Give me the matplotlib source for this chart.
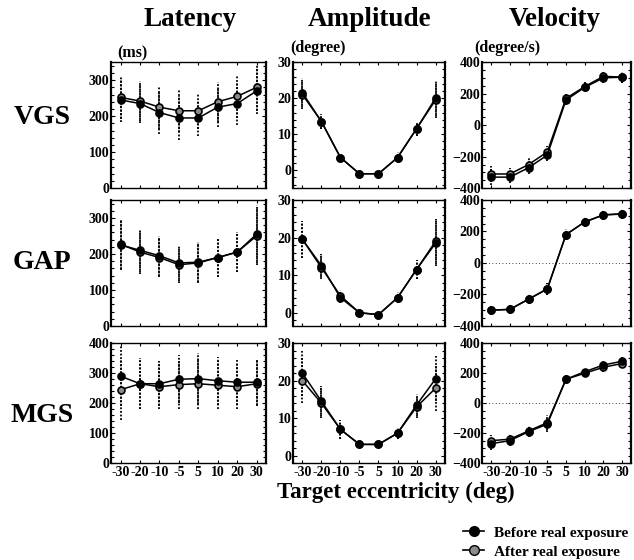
import numpy as np
import matplotlib.pyplot as plt
from matplotlib.lines import Line2D

plt.rcParams['font.family'] = ['Liberation Serif', 'DejaVu Serif']
plt.rcParams['font.weight'] = 'bold'

ecc = ['-30', '-20', '-10', '-5', '5', '10', '20', '30']

# latency (ms)
vgs_lat_before = [245, 235, 210, 195, 195, 225, 235, 270]
vgs_lat_after = [252, 242, 225, 215, 215, 240, 255, 280]
gap_lat_before = [225, 210, 195, 175, 177, 190, 205, 255]
gap_lat_after = [227, 205, 190, 170, 175, 190, 205, 250]
mgs_lat_before = [290, 265, 265, 280, 282, 275, 270, 270]
mgs_lat_after = [245, 265, 255, 262, 265, 260, 255, 265]
lat_err = [[60, 55, 60, 60, 50, 55, 60, 65],
           [70, 60, 55, 50, 55, 55, 55, 80],
           [100, 85, 75, 80, 85, 80, 75, 75]]

# amplitude (degree)
vgs_amp_before = [21.5, 13.5, 3.5, -1, -1, 3.5, 11.5, 20]
vgs_amp_after = [21, 13.5, 3.5, -1, -1, 3.5, 11.5, 19.5]
gap_amp_before = [19.5, 12.5, 4, 0, -0.5, 4, 11.5, 18.5]
gap_amp_after = [19.5, 12, 4.5, 0, -0.5, 4, 11.5, 19]
mgs_amp_before = [22, 14.5, 7, 3, 3, 6, 13.5, 20.5]
mgs_amp_after = [20, 14, 7, 3, 3, 6, 13, 18]
amp_err = [[4, 2, 1, 0.5, 0.5, 1.5, 2, 5],
           [5, 3, 1.5, 1, 1, 1.5, 2.5, 6],
           [6, 4, 2.5, 1, 1, 1.5, 3, 6]]

# velocity (degree/s)
vgs_vel_before = [-330, -330, -270, -190, 160, 240, 300, 305]
vgs_vel_after = [-310, -310, -250, -170, 170, 245, 310, 305]
gap_vel_before = [-300, -295, -230, -165, 180, 260, 305, 310]
gap_vel_after = [-300, -295, -230, -165, 180, 260, 305, 312]
mgs_vel_before = [-270, -250, -190, -140, 160, 210, 255, 280]
mgs_vel_after = [-250, -240, -185, -130, 160, 200, 240, 265]
vel_err = [[50, 40, 40, 40, 30, 30, 30, 35],
           [30, 30, 30, 40, 35, 30, 30, 30],
           [40, 35, 35, 50, 25, 25, 30, 30]]

rows = ['VGS', 'GAP', 'MGS']
data = [
    [(vgs_lat_before, vgs_lat_after), (vgs_amp_before, vgs_amp_after), (vgs_vel_before, vgs_vel_after)],
    [(gap_lat_before, gap_lat_after), (gap_amp_before, gap_amp_after), (gap_vel_before, gap_vel_after)],
    [(mgs_lat_before, mgs_lat_after), (mgs_amp_before, mgs_amp_after), (mgs_vel_before, mgs_vel_after)],
]
errs = [lat_err, amp_err, vel_err]

lefts = [0.175, 0.462, 0.760]
widths = [0.245, 0.240, 0.236]
bottoms = [0.664, 0.418, 0.173]
heights = [0.225, 0.225, 0.214]

ylims = [[(0, 350), (-5, 30), (-400, 400)],
         [(0, 350), (-3.5, 30), (-400, 400)],
         [(0, 400), (-2, 30), (-400, 400)]]
yticks = [[[0, 100, 200, 300], [0, 10, 20, 30], [-400, -200, 0, 200, 400]],
          [[0, 100, 200, 300], [0, 10, 20, 30], [-400, -200, 0, 200, 400]],
          [[0, 100, 200, 300, 400], [0, 10, 20, 30], [-400, -200, 0, 200, 400]]]

fig = plt.figure(figsize=(6.34, 5.6), dpi=100)
x = np.arange(len(ecc))

for r in range(3):
    for c in range(3):
        ax = fig.add_axes([lefts[c], bottoms[r], widths[c], heights[r]])
        before, after = data[r][c]
        e = errs[c][r]
        for vals, fc in [(after, '#8a8a8a'), (before, 'black')]:
            cont = ax.errorbar(x, vals, yerr=e, fmt='-o', color='black', ms=5,
                               mfc=fc, mec='black', mew=1.2, lw=1.1,
                               elinewidth=1.3, capsize=0, zorder=3)
            for lc in cont[2]:
                lc.set_linestyle((0, (1, 1)))
        if c == 2 and r > 0:
            ax.axhline(0, color='black', lw=0.6, ls=(0, (1, 3)), zorder=1)
        ax.set_xlim(-0.5, 7.5)
        ax.set_ylim(*ylims[r][c])
        ax.set_yticks(yticks[r][c])
        ax.set_xticks(x)
        if r == 2:
            ax.set_xticklabels(ecc)
        else:
            ax.set_xticklabels([])
        ax.minorticks_on()
        ax.xaxis.set_minor_locator(plt.NullLocator())
        ax.tick_params(which='both', direction='in', top=True, right=True,
                       labelsize=10, pad=1, length=2, width=0.8)
        ax.tick_params(axis='y', which='major', length=3)
        ax.tick_params(axis='x', pad=2)
        for lab in ax.get_xticklabels() + ax.get_yticklabels():
            lab.set_fontweight('bold')
        for s in ax.spines.values():
            s.set_linewidth(1.0)
        ax.spines['left'].set_linewidth(1.6)
        ax.spines['right'].set_linewidth(1.6)

col_titles = ['Latency', 'Amplitude', 'Velocity']
col_x = [0.30, 0.583, 0.875]
for t, cx in zip(col_titles, col_x):
    fig.text(cx, 0.966, t, ha='center', va='center', fontsize=19.5, fontweight='bold')

units = ['(ms)', '(degree)', '(degree/s)']
unit_x = [0.185, 0.458, 0.852]
for u, ux, ha in zip(units, unit_x, ['left', 'left', 'right']):
    fig.text(ux, 0.905 if u == '(ms)' else 0.915, u, ha=ha, va='center', fontsize=11.5, fontweight='bold')

row_y = [0.79, 0.532, 0.258]
for name, ry in zip(rows, row_y):
    fig.text(0.066, ry, name, ha='center', va='center', fontsize=20, fontweight='bold')

fig.text(0.625, 0.12, 'Target eccentricity (deg)', ha='center', va='center',
         fontsize=16.5, fontweight='bold')

handles = [Line2D([], [], color='black', marker='o', ms=7, mfc='black', mec='black', lw=1.2),
           Line2D([], [], color='black', marker='o', ms=7, mfc='#8a8a8a', mec='black', lw=1.2)]
fig.legend(handles, ['Before real exposure', 'After real exposure'], loc='lower right',
           bbox_to_anchor=(1.012, -0.022), frameon=False, fontsize=11,
           handlelength=1.4, handletextpad=0.6, labelspacing=0.35)

fig.savefig('out.png', dpi=100)
